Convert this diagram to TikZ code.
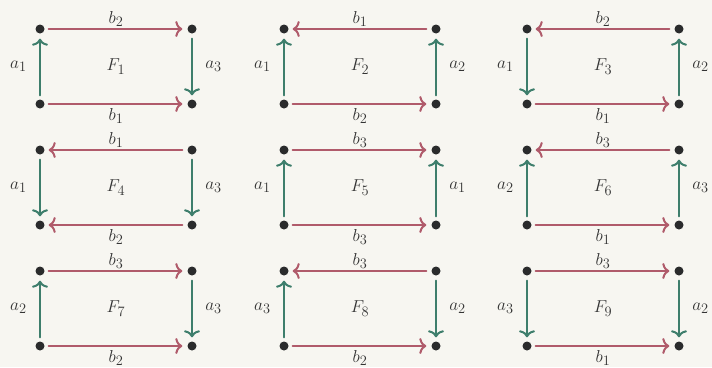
\documentclass[tikz,border=0pt]{standalone}
\usetikzlibrary{arrows.meta}
\begin{document}
\begin{tikzpicture}[x=1pt, y=-1pt, font=\fontsize{19}{22}\selectfont]
    \definecolor{bgColour}{HTML}{F7F6F1}
    \definecolor{dotColour}{HTML}{2A2B2C}
    \definecolor{textColour}{HTML}{333333}
    \definecolor{edgeColourB}{HTML}{B05B6B}
    \definecolor{edgeColourA}{HTML}{3E7E6C}

    \def\faceWidth{152}
    \def\faceHeight{75}

    \tikzset{
        >={Computer Modern Rightarrow[length=7pt, width=16pt]},
        vertexDot/.style={circle, fill=dotColour, inner sep=0pt, minimum size=9pt},
        edgeLine/.style={line width=2pt, line cap=round, shorten <=4pt, shorten >=5pt},
        edgeB/.style={edgeLine, draw=edgeColourB},
        edgeA/.style={edgeLine, draw=edgeColourA},
        toEnd/.style={->},
        toStart/.style={<-},
        every node/.append style={text=textColour}
    }

    % Background and page size
    \fill[bgColour] (0,0) rectangle (712,367);
    \useasboundingbox (0,0) rectangle (712,367);

    % Faces: n / left x / top y / top b / top dir / bottom b / bottom dir / left a / left dir / right a / right dir
    % (top and bottom run left to right, sides run bottom to top)
    \foreach \n/\x/\y/\bt/\dt/\bb/\db/\al/\dl/\ar/\dr in {
        1/40/29/2/toEnd/1/toEnd/1/toEnd/3/toStart,
        2/284/29/1/toStart/2/toEnd/1/toEnd/2/toEnd,
        3/527/29/2/toStart/1/toEnd/1/toStart/2/toEnd,
        4/40/150/1/toStart/2/toStart/1/toStart/3/toStart,
        5/284/150/3/toEnd/3/toEnd/1/toEnd/1/toEnd,
        6/527/150/3/toStart/1/toEnd/2/toEnd/3/toEnd,
        7/40/271/3/toEnd/2/toEnd/2/toEnd/3/toStart,
        8/284/271/3/toStart/2/toEnd/3/toEnd/2/toStart,
        9/527/271/3/toEnd/1/toEnd/3/toStart/2/toStart}
    {
        \node[vertexDot] (tl\n) at (\x,\y) {};
        \node[vertexDot] (tr\n) at (\x+\faceWidth,\y) {};
        \node[vertexDot] (bl\n) at (\x,\y+\faceHeight) {};
        \node[vertexDot] (br\n) at (\x+\faceWidth,\y+\faceHeight) {};

        \draw[edgeB, \dt] (tl\n) -- node[above=-2pt] {$b_{\bt}$} (tr\n);
        \draw[edgeB, \db] (bl\n) -- node[below=0pt] {$b_{\bb}$} (br\n);
        \draw[edgeA, \dl] (bl\n) -- node[left=9pt] {$a_{\al}$} (tl\n);
        \draw[edgeA, \dr] (br\n) -- node[right=9pt] {$a_{\ar}$} (tr\n);

        \node (face\n) at (\x+\faceWidth/2,\y+\faceHeight/2) {$F_{\n}$};
    }

\end{tikzpicture}
\end{document}
